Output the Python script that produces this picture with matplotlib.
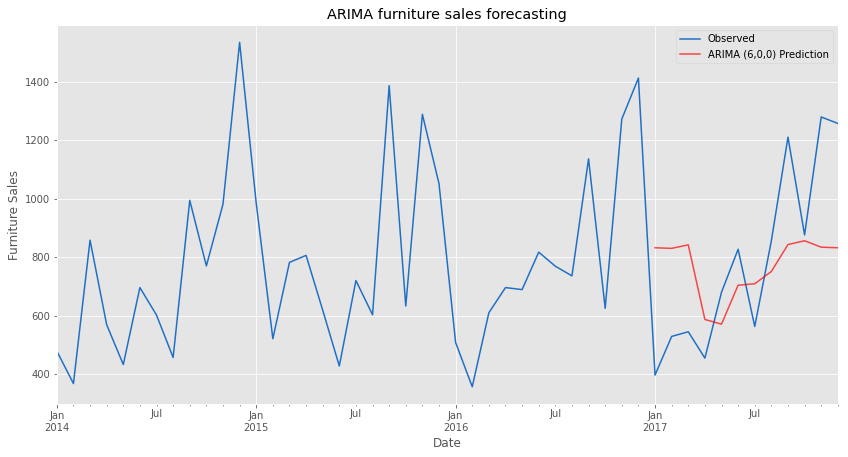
import matplotlib
matplotlib.use('Agg')
import matplotlib.pyplot as plt
import pandas as pd

plt.style.use('ggplot')

# monthly furniture sales, Jan 2014 - Dec 2017
months = pd.date_range('2014-01-01', periods=48, freq='MS')
observed = [480, 369, 859, 570, 434, 697, 603, 458, 995, 771, 982, 1535,
            985, 522, 783, 807, 620, 429, 721, 604, 1387, 634, 1289, 1052,
            509, 358, 611, 697, 690, 818, 770, 737, 1137, 626, 1273, 1413,
            398, 530, 546, 456, 681, 828, 564, 857, 1211, 877, 1280, 1258]

pred_months = pd.date_range('2017-01-01', periods=12, freq='MS')
prediction = [833, 831, 843, 588, 572, 705, 710, 752, 844, 857, 835, 833]

y = pd.Series(observed, index=months)
pred = pd.Series(prediction, index=pred_months)

fig, ax = plt.subplots(figsize=(848 / 72, 457 / 72), dpi=72)
fig.subplots_adjust(left=0.067, right=0.988, top=0.945, bottom=0.116)

y.plot(ax=ax, label='Observed', color='#1f6fc5')
pred.plot(ax=ax, label='ARIMA (6,0,0) Prediction', color='r', alpha=0.7)

ax.set_xlabel('Date')
ax.set_ylabel('Furniture Sales')
ax.set_title('ARIMA furniture sales forecasting')
ax.legend()

fig.savefig('out.png', dpi=72)
